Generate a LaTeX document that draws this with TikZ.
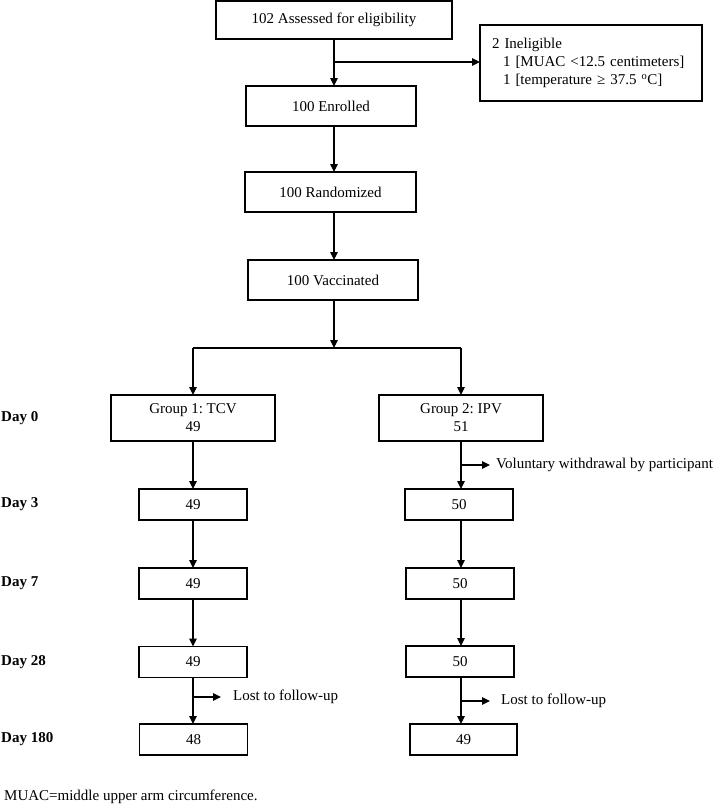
\documentclass[tikz,border=0pt]{standalone}
\usepackage{fontspec}
\setmainfont{Liberation Serif}
\usetikzlibrary{arrows.meta}
\frenchspacing
\begin{document}
\begin{tikzpicture}[x=1pt,y=-1pt,
  every node/.style={font=\fontsize{15}{18}\selectfont},
  box/.style={draw, line width=1.3pt, inner sep=0pt, outer sep=0pt, align=center},
  daybox/.style={box, minimum width=108pt, minimum height=31pt},
  daylabel/.style={anchor=west, inner sep=0pt, font=\fontsize{15}{18}\selectfont\bfseries},
  note/.style={anchor=west, inner sep=0pt},
  arr/.style={line width=1.1pt, -{Triangle[length=8pt,width=7.5pt]}},
  ln/.style={line width=1.1pt}]
\useasboundingbox (0,0) rectangle (714,806);

% top chain
\node[box, minimum width=236pt, minimum height=38pt] (top) at (334,20) {102 Assessed for eligibility};
\node[box, minimum width=222pt, minimum height=76pt, text width=198pt, align=left] (inel) at (591,63)
  {2 Ineligible\\\hspace*{11pt}1 [MUAC <12.5 centimeters]\\\hspace*{11pt}1 [temperature ≥ 37.5 \textsuperscript{o}C]};
\node[box, minimum width=170pt, minimum height=40pt] (enr) at (331,106) {100 Enrolled};
\node[box, minimum width=171pt, minimum height=40pt] (rand) at (330.5,192) {100 Randomized};
\node[box, minimum width=170pt, minimum height=40pt] (vac) at (333,280) {100 Vaccinated};

\coordinate (br) at (334,62);
\draw[arr] (top.south) -- (top.south |- enr.north);
\draw[arr] (br) -- (br -| inel.west);
\draw[arr] (enr.south -| top.south) -- (rand.north -| top.south);
\draw[arr] (rand.south -| top.south) -- (vac.north -| top.south);

% groups
\node[box, minimum width=164pt, minimum height=46pt] (g1) at (193,418) {Group 1: TCV\\49};
\node[box, minimum width=164pt, minimum height=46pt] (g2) at (461,418) {Group 2: IPV\\51};

\coordinate (split) at (334,348);
\coordinate (splitL) at (193,348);
\coordinate (splitR) at (461,348);
\draw[arr] (vac.south -| top.south) -- (split);
\draw[ln] (splitL) -- (splitR);
\draw[arr] (splitL) -- (g1.north);
\draw[arr] (splitR) -- (g2.north);

% day boxes
\node[daybox] (d3L) at (193,504.5) {49};
\node[daybox] (d3R) at (459,504.5) {50};
\node[daybox] (d7L) at (193,583.5) {49};
\node[daybox] (d7R) at (460,583.5) {50};
\node[daybox] (d28L) at (193,662) {49};
\node[daybox] (d28R) at (460,661.5) {50};
\node[daybox] (d180L) at (193.5,739.5) {48};
\node[daybox, minimum width=107pt] (d180R) at (463.5,739.5) {49};

\draw[arr] (g1.south) -- (g1.south |- d3L.north);
\draw[arr] (g1.south |- d3L.south) -- (g1.south |- d7L.north);
\draw[arr] (g1.south |- d7L.south) -- (g1.south |- d28L.north);
\draw[arr] (g1.south |- d28L.south) -- (g1.south |- d180L.north);

\draw[arr] (g2.south) -- (g2.south |- d3R.north);
\draw[arr] (g2.south |- d3R.south) -- (g2.south |- d7R.north);
\draw[arr] (g2.south |- d7R.south) -- (g2.south |- d28R.north);
\draw[arr] (g2.south |- d28R.south) -- (g2.south |- d180R.north);

% side notes
\node[note] (wd) at (496,465) {Voluntary withdrawal by participant};
\coordinate (wdS) at (461,465);
\draw[arr] (wdS) -- ([xshift=-6pt]wd.west);
\node[note] (lostL) at (233,697) {Lost to follow-up};
\coordinate (lostLS) at (193,697);
\draw[arr] (lostLS) -- ([xshift=-12pt]lostL.west);
\node[note] (lostR) at (501,701) {Lost to follow-up};
\coordinate (lostRS) at (461,701);
\draw[arr] (lostRS) -- ([xshift=-11pt]lostR.west);

% day labels
\node[daylabel] (l0) at (1,418) {Day 0};
\node[daylabel] (l3) at (1,504) {Day 3};
\node[daylabel] (l7) at (1,583) {Day 7};
\node[daylabel] (l28) at (1,662) {Day 28};
\node[daylabel] (l180) at (1,739) {Day 180};

\node[note] (foot) at (4,797) {MUAC=middle upper arm circumference.};
\end{tikzpicture}
\end{document}
